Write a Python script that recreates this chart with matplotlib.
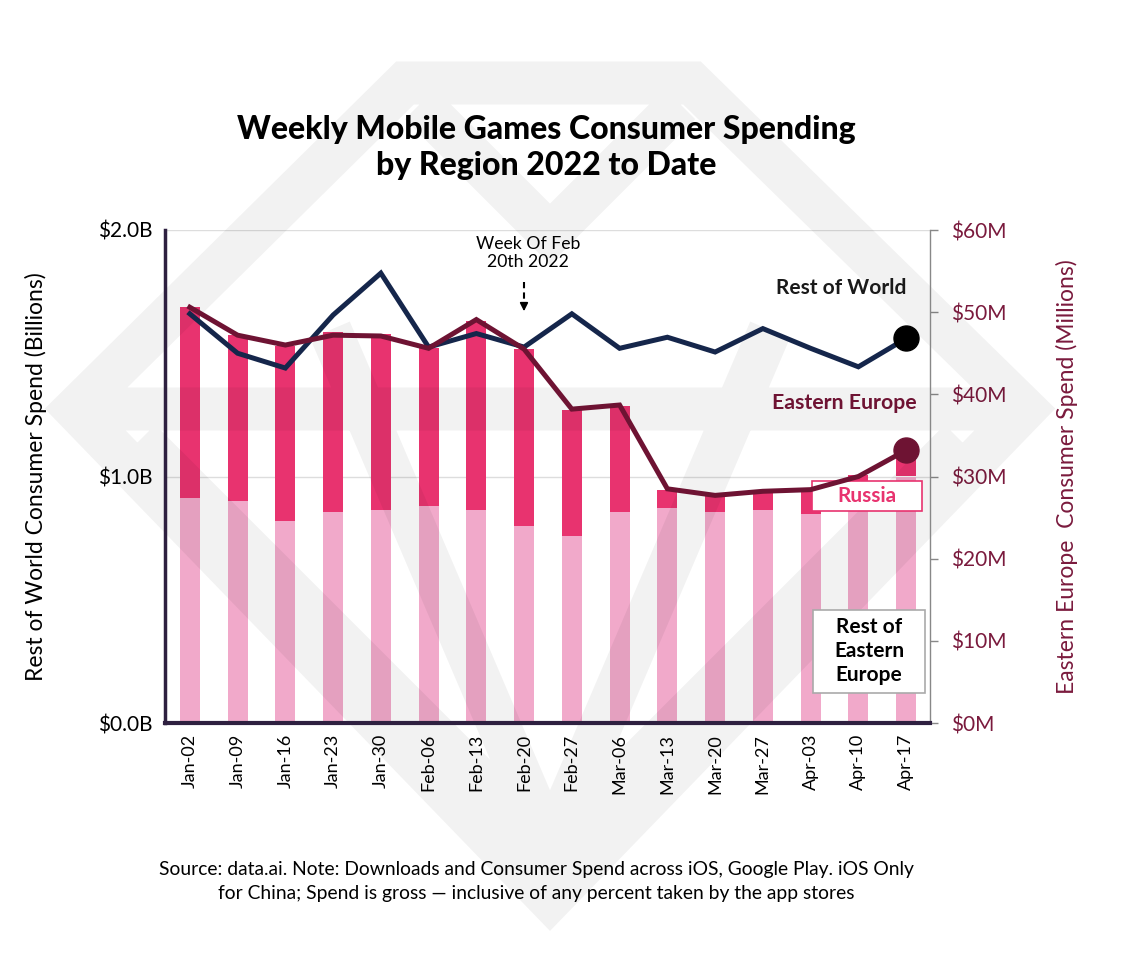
import numpy as np
import matplotlib
matplotlib.use("Agg")
import matplotlib.pyplot as plt
from matplotlib.path import Path
from matplotlib.patches import PathPatch, Rectangle
from matplotlib.lines import Line2D
from matplotlib.transforms import Affine2D

plt.rcParams['font.family'] = ['Lato', 'DejaVu Sans']

# data
weeks = ['Jan-02', 'Jan-09', 'Jan-16', 'Jan-23', 'Jan-30', 'Feb-06', 'Feb-13', 'Feb-20',
         'Feb-27', 'Mar-06', 'Mar-13', 'Mar-20', 'Mar-27', 'Apr-03', 'Apr-10', 'Apr-17']
rest_of_world_b = [1.66, 1.50, 1.44, 1.655, 1.825, 1.525, 1.58, 1.525,
                   1.66, 1.52, 1.565, 1.505, 1.60, 1.52, 1.445, 1.56]
eastern_europe_m = [50.6, 47.2, 46.0, 47.2, 47.1, 45.6, 49.1, 45.5,
                    38.2, 38.7, 28.5, 27.7, 28.2, 28.4, 30.0, 33.2]
rest_of_ee_m = [27.4, 27.0, 24.6, 25.7, 25.9, 26.4, 25.9, 24.0,
                22.7, 25.7, 26.2, 25.7, 25.9, 25.4, 28.5, 30.0]
russia_m = [23.2, 20.2, 21.3, 21.9, 21.5, 19.2, 23.0, 21.5,
            15.4, 12.9, 2.1, 2.3, 2.4, 2.9, 1.7, 3.2]

NAVY = '#15264B'
MAROON = '#6E1333'
PINK = '#E8336F'
LIGHT_PINK = '#F1A9CA'
TICK_MAROON = '#7A1A3D'

W, H = 1136, 980
fig = plt.figure(figsize=(W / 100, H / 100), dpi=100)
px = Affine2D().scale(1 / W, -1 / H).translate(0, 1) + fig.transFigure

rect = [165 / W, 1 - 723 / H, (930 - 165) / W, (723 - 230) / H]
ax = fig.add_axes(rect)      # rest of world, billions
axb = ax.twinx()             # bars, millions
axe = ax.twinx()             # eastern europe line, millions
axb.set_zorder(1)
ax.set_zorder(2)
axe.set_zorder(3)
for a in (ax, axb, axe):
    a.patch.set_visible(False)

x = np.arange(len(weeks))

# stacked bars
axb.bar(x, rest_of_ee_m, width=0.42, color=LIGHT_PINK, zorder=1)
axb.bar(x, russia_m, width=0.42, bottom=rest_of_ee_m, color=PINK, zorder=1)
for v in (30, 60):
    axb.axhline(v, color='#dddddd', lw=1, zorder=0)

# watermark (one stroked path so overlaps don't double up)
verts, codes = [], []
def stroke(pts, closed=False):
    for i, p in enumerate(pts):
        verts.append(p)
        codes.append(Path.MOVETO if i == 0 else Path.LINETO)
    if closed:
        verts.append(pts[0])
        codes.append(Path.CLOSEPOLY)
stroke([(405, 83), (692, 83), (1025, 409), (550, 900), (75, 409)], closed=True)
stroke([(75, 409), (1025, 409)])
stroke([(420, 104), (550, 234), (680, 104)])
stroke([(140, 440), (550, 850), (960, 440)])
stroke([(330, 330), (550, 845), (770, 330)])
wm = PathPatch(Path(verts, codes), transform=px, fill=False,
               edgecolor=(0, 0, 0, 0.05), lw=31, joinstyle='miter',
               capstyle='butt', clip_on=False, zorder=2)
axb.add_patch(wm)

# label boxes
axb.add_patch(Rectangle((812, 481), 110, 30, transform=px, facecolor='white',
                        edgecolor=PINK, lw=1.2, clip_on=False, zorder=3))
axb.add_patch(Rectangle((813, 610), 112, 83, transform=px, facecolor='white',
                        edgecolor='#aaaaaa', lw=1.2, clip_on=False, zorder=3))

# lines
ax.plot(x, rest_of_world_b, color=NAVY, lw=3.6, solid_joinstyle='miter', zorder=3)
ax.plot(x[-1], rest_of_world_b[-1], 'o', color='black', ms=18, zorder=4)
axe.plot(x, eastern_europe_m, color=MAROON, lw=3.6, solid_joinstyle='miter', zorder=3)
axe.plot(x[-1], eastern_europe_m[-1], 'o', color=MAROON, ms=18, zorder=4)

# scales
ax.set_xlim(-0.52, 15.5)
ax.set_ylim(0, 2.0)
axb.set_ylim(0, 60)
axe.set_ylim(0, 60)

ax.set_xticks(x)
ax.set_xticklabels(weeks, rotation=90, fontsize=13)
ax.set_yticks([0, 1, 2])
ax.set_yticklabels(['$0.0B', '$1.0B', '$2.0B'], fontsize=15)
ax.tick_params(axis='y', length=0, pad=9)
ax.tick_params(axis='x', length=0, pad=8)
ax.set_ylabel('Rest of World Consumer Spend (Billions)', fontsize=16.5, labelpad=37)

axb.set_yticks(range(0, 61, 10))
axb.set_yticklabels(['$%dM' % v for v in range(0, 61, 10)], fontsize=15, color=TICK_MAROON)
axb.tick_params(axis='y', length=6, width=1, color='#888888', pad=9)
axb.set_ylabel('Eastern Europe  Consumer Spend (Millions)', fontsize=16.5,
               color=TICK_MAROON, labelpad=36)
axe.set_yticks([])

for a in (ax, axb, axe):
    for s in a.spines.values():
        s.set_visible(False)
ax.spines['left'].set_visible(True)
ax.spines['left'].set_color('#2E2040')
ax.spines['left'].set_linewidth(2.5)
ax.spines['bottom'].set_visible(True)
ax.spines['bottom'].set_color('#2E2040')
ax.spines['bottom'].set_linewidth(3)
axb.spines['right'].set_visible(True)
axb.spines['right'].set_color('#888888')
axb.spines['right'].set_linewidth(1)

# text
fig.text(546 / W, 1 - 130 / H, 'Weekly Mobile Games Consumer Spending', ha='center',
         va='center', fontsize=23, fontweight='black')
fig.text(546 / W, 1 - 166 / H, 'by Region 2022 to Date', ha='center',
         va='center', fontsize=23, fontweight='black')

fig.text(528 / W, 1 - 253 / H, 'Week Of Feb\n20th 2022', ha='center', va='center',
         fontsize=12.7, linespacing=1.1)
fig.add_artist(Line2D([524 / W, 524 / W], [1 - 282 / H, 1 - 303 / H], color='black',
                      lw=1.5, ls=(0, (3, 2))))
ax.annotate('', xy=(524, 314), xytext=(524, 302), xycoords=px, textcoords=px,
            arrowprops=dict(arrowstyle='-|>', color='black', lw=1.2, mutation_scale=12))

fig.text(906 / W, 1 - 288 / H, 'Rest of World', ha='right', va='center',
         fontsize=15, fontweight='bold', color='#1a1a1a')
fig.text(917 / W, 1 - 403 / H, 'Eastern Europe', ha='right', va='center',
         fontsize=15.3, fontweight='bold', color=MAROON)
fig.text(867 / W, 1 - 496 / H, 'Russia', ha='center', va='center',
         fontsize=15, fontweight='bold', color=PINK, zorder=5)
fig.text(869 / W, 1 - 651 / H, 'Rest of\nEastern\nEurope', ha='center', va='center',
         fontsize=15, fontweight='bold', color='black', linespacing=1.25, zorder=5)

fig.text(536 / W, 1 - 869 / H,
         'Source: data.ai. Note: Downloads and Consumer Spend across iOS, Google Play. iOS Only',
         ha='center', va='center', fontsize=13.9)
fig.text(536 / W, 1 - 893 / H,
         'for China; Spend is gross \u2014 inclusive of any percent taken by the app stores',
         ha='center', va='center', fontsize=13.9)

fig.savefig('out.png', dpi=100, facecolor='white')
